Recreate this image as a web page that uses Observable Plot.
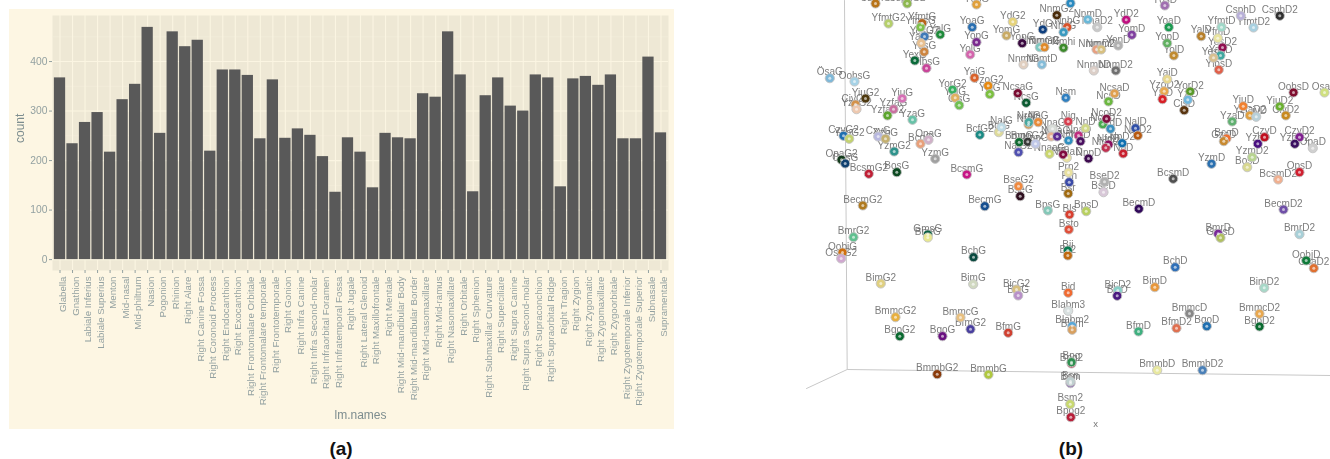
<!DOCTYPE html>
<html>
<head>
<meta charset="utf-8">
<script src="https://cdn.jsdelivr.net/npm/d3@7"></script>
<script src="https://cdn.jsdelivr.net/npm/@observablehq/plot@0.6"></script>
<style>
html,body{margin:0;padding:0;background:#fff;width:1330px;height:459px;overflow:hidden}
#a,#b{position:absolute}
#a{left:9px;top:9px}
#b{left:800px;top:0}
svg{display:block;filter:blur(0.45px)}
.cap{position:absolute;top:438px;font:bold 19px "Liberation Sans",Arial,sans-serif;color:#111;transform:translateX(-50%)}
</style>
</head>
<body>
<div id="a"></div>
<div id="b"></div>
<div class="cap" style="left:341px">(a)</div>
<div class="cap" style="left:1071px">(b)</div>
<script>
// ---- panel (a): landmark counts
const lmNames = ["Glabella","Gnathion","Labiale Inferius","Labiale Superius","Menton","Mid-nasal","Mid-philtrum","Nasion","Pogonion","Rhinion","Right Alare","Right Canine Fossa","Right Coronoid Process","Right Endocanthion","Right Exocanthion","Right Frontomalare Orbitale","Right Frontomalare temporale","Right Frontotemporale","Right Gonion","Right Infra Canine","Right Infra Second-molar","Right Infraorbital Foramen","Right Infratemporal Fossa","Right Jugale","Right Lateral Glenoid","Right Maxillofrontale","Right Mentale","Right Mid-mandibular Body","Right Mid-mandibular Border","Right Mid-nasomaxillare","Right Mid-ramus","Right Nasomaxillare","Right Orbitale","Right Sphenion","Right Submaxillar Curvature","Right Superciliare","Right Supra Canine","Right Supra Second-molar","Right Supraconchion","Right Supraorbital Ridge","Right Tragion","Right Zygion","Right Zygomatic","Right Zygomaxillare","Right Zygoorbitale","Right Zygotemporale Inferior","Right Zygotemporale Superior","Subnasale","Supramentale"];
const lmCounts = [367,234,277,297,217,323,354,469,255,460,430,443,219,383,383,372,244,363,245,264,251,208,136,246,217,145,255,246,244,335,328,460,373,137,331,367,310,300,373,367,147,365,370,352,373,244,244,409,256];
const countTicks = [0,100,200,300,400];
const countMinor = [50,150,250,350,450];

// ---- panel (b): 3D landmark scatter, positions as read on the picture
const ptNames = ["CsphG","CsphG2","YdsG","YfmtG2","YfmtG","YfmsG","YalG","YesG2","YasG","YesG","YexG","YlbsG","YoaG","YopG","YolG","YdG2","YomG","YonG","YdG","NnmG2","NnbG","NmlG","NmmG2","NmmG","Nmhi","NnmtG","NnmtD","ÖsaG","OohsG","YiuG2","CivG2","YzaG2","YiuG","YzfaG","YzfaG2","YzaG","CzyG2","YzbG2","CzyG","YzbG","YzmG2","BcoG","OpaG","YzmG","OpaG2","OpsG","BcsmG2","BosG","BcsmG","BecmG2","BecmG","BseG2","BseG","BpsG","YaiG","YzoG2","YziG","YorG2","YzlG","CisG","NcsaG","NcsG","Nsm","BcfG2","BcfG","NalG","NalG2","BmpG","BmpG2","NnpG","NnaaG","NfdG","NrdG","NnG","NnaG","NdG","NdaG","Nig","Nmn","NnaD","NdD","NnD","NnpD","NnaaD","Sn","Prn2","NcoD","NcoD2","NrdD","NalD","NalD2","NpD","NpD2","NfdD","NfdD2","NcsaD","NcsD","Prn","Bsr","Bls","Tr","YdsD","NnmD","NnaD2","YdD2","YomD","YonD","NmmD2","NmmD","NnmbD","NnmD2","YoaD","YopD","YolD","YalD","YfmtD","YfmD","YesD2","YasD","YesD","YlbsD","CsphD","CsphD2","YfmtD2","YaiD","YzoD2","YziD","YorD2","YzlD","CisD","OohsD","OsaD","YiuD","YiuD2","YzfaD2","CivD","CivD2","YzaD","BcoD","GzsD","CzyD","YzbD","CzyD2","YzbD2","OpaD","YzmD2","BosD","YzmD","BcsmD","OpsD","BcsmD2","BseD2","BseD","BecmD","BecmD2","BpsD","Bsto","BmrG2","GmsG","BmrG","OobjG","OsaG2","BchG","BimG2","BimG","BicG2","BicG","BmmcG2","BmmcG","BgoG2","BgoG","BfmG2","BfmG","BmmbG2","BmmbG","Bii","Bii2","Bid","Blabm3","Blabm2","Blbm","Bpg2","Bpg","Bsm","Bsn","Bsm2","Bpog2","BmrD","GmsD","BmrD2","OobjD","OsaD2","BchD","BimD","BimD2","BicD2","BicD","BmmcD","BmmcD2","BfmD","BfmD2","BgoD","BgoD2","BmmbD","BmmbD2"];
const ptX = [875,906.7,976,888,921.7,920,939.7,924,920.7,923.7,914.3,926,971.7,976,969.7,1012.3,1006,1021.7,1042.3,1056.3,1066.7,1063,1039.3,1044,1063,1023,1041.3,829.3,854,865,855,856,901.7,893,887,912,843,848.7,877.7,885,893.7,920,928,934.7,841,844.7,868.3,896.3,966.3,862.3,984.3,1018,1019.7,1047.3,974,987.7,989.3,952,954.7,958.7,1017.3,1025.7,1065.3,979.3,998.3,1001,1018,1018.7,1027.3,1035,1049,1028,1028.3,1037.7,1052,1050.7,1056.7,1067.7,1068,1078,1080,1085,1088,1066.3,1062.7,1068,1102.3,1106,1110,1135,1137.3,1122.7,1121.7,1108,1105.3,1114,1108,1068.7,1067.7,1069,1070,1164.3,1087.3,1096.7,1125.7,1131.3,1117.7,1096,1100.7,1093.3,1115.3,1168.3,1166.7,1173.3,1200.7,1221,1217.3,1222,1220,1213,1218.3,1240.3,1279.3,1253,1166.7,1163.7,1162,1189.7,1187.3,1183.7,1293,1324,1242.7,1279.3,1249.3,1255.7,1285.3,1231.7,1226,1223.3,1264,1257.3,1299,1294.3,1312.3,1251.7,1246.7,1211,1172.7,1299,1277.7,1104,1103,1138.3,1283,1085.7,1068.3,853,927.3,927.3,842,840.7,973,880.3,972.7,1016,1017.7,895,960,899.3,942,970,1007.7,936.7,988,1067.3,1067.3,1067.7,1067.7,1071.7,1071.7,1071,1071,1070,1070,1069.7,1070.3,1217.7,1220,1299,1305.7,1313.3,1174.7,1154.3,1263.7,1117.3,1116.7,1189,1259,1138,1176,1206.3,1259,1156.7,1202];
const ptY = [3,3,4,23,22.7,26.7,34,36,42.7,51.3,60,67.7,26.7,41.7,54,21.3,35,42.7,29,14.7,26.7,31.7,46.7,46.7,47.3,64,64,77.7,81,98,104,108.7,98,108.7,115,119.3,135.3,138.3,136,138.3,151,143.3,139.3,158.3,159.3,163,173.3,171.7,174,205,205.7,185.7,195.7,210,77.3,85.3,93.7,89.3,97.3,104.7,92.7,102.3,97.3,134.3,131.7,126.7,151.7,141.7,141.3,143.3,153.3,124,121.7,121.7,128.3,136,136,121,140,135,140.7,127.7,158,157.3,154,172,123.7,118.3,128.3,127.7,135,153,142.7,144,147.3,93,101,181.7,193,214,2.7,5,19,26.7,19.3,34.3,45,49,49,70,70,26.7,42.7,55,35.7,26.7,37.7,47,55,57.3,69.3,15.3,15.3,27,78.7,90.7,98.7,91,99.3,109.7,92,92,105.7,106,115,116.3,115,121,138,140.7,136.7,143.3,136.7,143.3,147.7,156.7,166.7,163.3,178.3,171.7,179,181.3,191.7,208.3,209,210.7,229,236.7,234,237,252,258,256.7,283,283.7,289,295,316.7,317,335.7,335.7,328.7,332.3,373.7,374,250,255,292.3,310.3,325.5,329.3,363,361.7,382.7,381,403.7,416.7,233.3,237.3,233.7,260,267.7,266.7,286.7,287.3,290,295.3,313,313.3,331,327.7,325.7,326,369.7,369.7];
const ptColors = ["#b8741a","#8db84f","#e0a03c","#b5cf6b","#b8651a","#7ec14a","#1e8a3a","#3f7ab8","#e8c090","#cd853f","#0b6b3a","#c9459a","#2a6fb0","#7b2a8f","#d465ad","#e6d37a","#c9ab66","#3a0a40","#0f3f7f","#4a2c0a","#d9532a","#3a9ac0","#7ec8c0","#e08a2a","#3c8a2a","#e0cfc0","#85bcd8","#7fb8d8","#a6d2e6","#4f3a10","#d4934c","#eec9b0","#d670b5","#c970a0","#5ca52e","#68c2a8","#1f6fb0","#c3d270","#b8b8e0","#c4b070","#2f938c","#e8a07a","#d0b0c8","#a0a0a0","#123a1a","#10406f","#c01f36","#0d4a22","#c71585","#b07a1f","#164f8f","#f08a40","#301020","#84c8b8","#d9622a","#e88a10","#7cc040","#35b060","#e0b060","#70c050","#7a0c32","#0a5a30","#2f7fc0","#1a8a84","#dedb9a","#c0dce6","#5050b0","#0f6b30","#3a3a3a","#c0c8e8","#cad66e","#d0a060","#48a8a0","#e88b3a","#d8dcd8","#e8b090","#5b2a90","#d84050","#2f90c0","#c02f80","#4a0f60","#d0d888","#3e0a50","#e8e0a0","#800b40","#e8e0a0","#4aaa50","#800f40","#3a90c0","#3050a8","#b85a10","#c8202f","#0f70b0","#8b1060","#c03050","#e0a050","#6cb840","#3a4aa8","#a06a10","#d84030","#2a8ac0","#a070b0","#6ab8d8","#c8c8c8","#c01080","#8040a0","#b0b0b0","#e8a080","#d8c080","#dccfc8","#707070","#1a9a50","#60b060","#c08a30","#b8802a","#a0d8c8","#e8e4a0","#901050","#40a8a0","#d8c090","#e0604a","#b8b0d8","#303030","#a8d0e0","#e8d890","#e8a850","#d81f26","#5a9a2a","#70b8e0","#5a3510","#800f30","#d0e080","#f08030","#6ab030","#e0a040","#b8d0d8","#c88a20","#60b070","#f07030","#c88a30","#c01020","#4a1080","#802090","#3a1060","#d0d0d0","#b8d490","#d8d890","#2a70b0","#505050","#d02030","#f0b090","#b0b0b0","#d8c8d8","#30085a","#7050a8","#b8d060","#e0503a","#60c090","#0a6040","#e8e890","#d07010","#d0a8d0","#0a4a40","#e0d080","#d0d8c0","#d8c080","#b890c8","#e8b040","#e8c080","#0a6a30","#6a1080","#4a40a0","#d04030","#8a3a0a","#b0c840","#0a7a50","#c06a10","#f06a30","#d8e0e0","#5aa8d8","#d8a060","#c02040","#2f9050","#9070b0","#c0d0d0","#c8d870","#b8203a","#7a2a9a","#b0c060","#a8d0d8","#107a3a","#e07030","#3070b8","#e8983c","#a8d8c8","#88d0c8","#4a1a80","#888888","#e8a850","#40b080","#e07050","#1f6fb0","#0a6a30","#e8e8a0","#4a80b8"];
const boxX = [844,846.7,1330,846.7,806];
const boxY = [0,369,375,369,388];

const bars = lmNames.map((n,i)=>({name:n,count:lmCounts[i]}));
const points = ptNames.map((n,i)=>({name:n,x:ptX[i],y:ptY[i],color:ptColors[i]}));
const box = boxX.map((x,i)=>({x,y:boxY[i]}));

const font = '"Liberation Sans",Arial,sans-serif';
const grey = "#93a1a1";

document.getElementById("a").append(Plot.plot({
  width:665,height:420,marginLeft:43,marginRight:6,marginTop:6,marginBottom:159,
  style:{background:"#fdf6e3",fontFamily:font,overflow:"visible"},
  x:{type:"band",domain:lmNames,paddingInner:0.1,paddingOuter:0.15,round:false,label:null},
  y:{domain:[-22,493],label:null},
  marks:[
    Plot.frame({fill:"#eee8d5",stroke:null}),
    Plot.ruleY(countMinor,{stroke:"#f5efdc",strokeWidth:0.6}),
    Plot.ruleY(countTicks,{stroke:"#fbf5e2",strokeWidth:1.1}),
    Plot.ruleX(lmNames,{x:d=>d,stroke:"#fbf5e2",strokeWidth:1.1}),
    Plot.barY(bars,{x:"name",y:"count",fill:"#595959"}),
    Plot.axisX({anchor:"bottom",tickSize:3,tickFormat:null,color:grey,label:null}),
    Plot.axisX({anchor:"bottom",tickSize:0,tickRotate:-90,tickPadding:6,dx:3,fontSize:9.7,color:grey,label:null}),
    Plot.axisY({anchor:"left",ticks:countTicks,tickSize:3,tickPadding:2,fontSize:10.3,color:grey,label:null}),
    Plot.text(["lm.names"],{frameAnchor:"bottom",dy:148,fontSize:12,fill:"#7d8d8f"}),
    Plot.text(["count"],{frameAnchor:"left",dx:-32,rotate:-90,fontSize:12,fill:"#7d8d8f"})
  ]
}));

document.getElementById("b").append(Plot.plot({
  width:530,height:459,marginLeft:0,marginRight:0,marginTop:0,marginBottom:0,
  style:{background:"transparent",fontFamily:font},
  x:{domain:[800,1330],axis:null},
  y:{domain:[459,0],axis:null},
  marks:[
    Plot.line(box.slice(0,3),{x:"x",y:"y",stroke:"#c8c8c8",strokeWidth:1}),
    Plot.line(box.slice(3),{x:"x",y:"y",stroke:"#c8c8c8",strokeWidth:1}),
    Plot.text(points,{x:"x",y:"y",text:"name",dy:-6,fontSize:10,fill:"#6e6e6e",fillOpacity:0.9}),
    Plot.dot(points,{x:"x",y:"y",r:4.6,fill:"color",stroke:"#c4c4c4",strokeWidth:0.9}),
    Plot.dot(points,{x:"x",y:"y",r:1.5,fill:"#fff",fillOpacity:0.6}),
    Plot.text(["x"],{x:[1095],y:[423],text:d=>d,fontSize:9.5,fill:"#777"})
  ]
}));
</script>
</body>
</html>
